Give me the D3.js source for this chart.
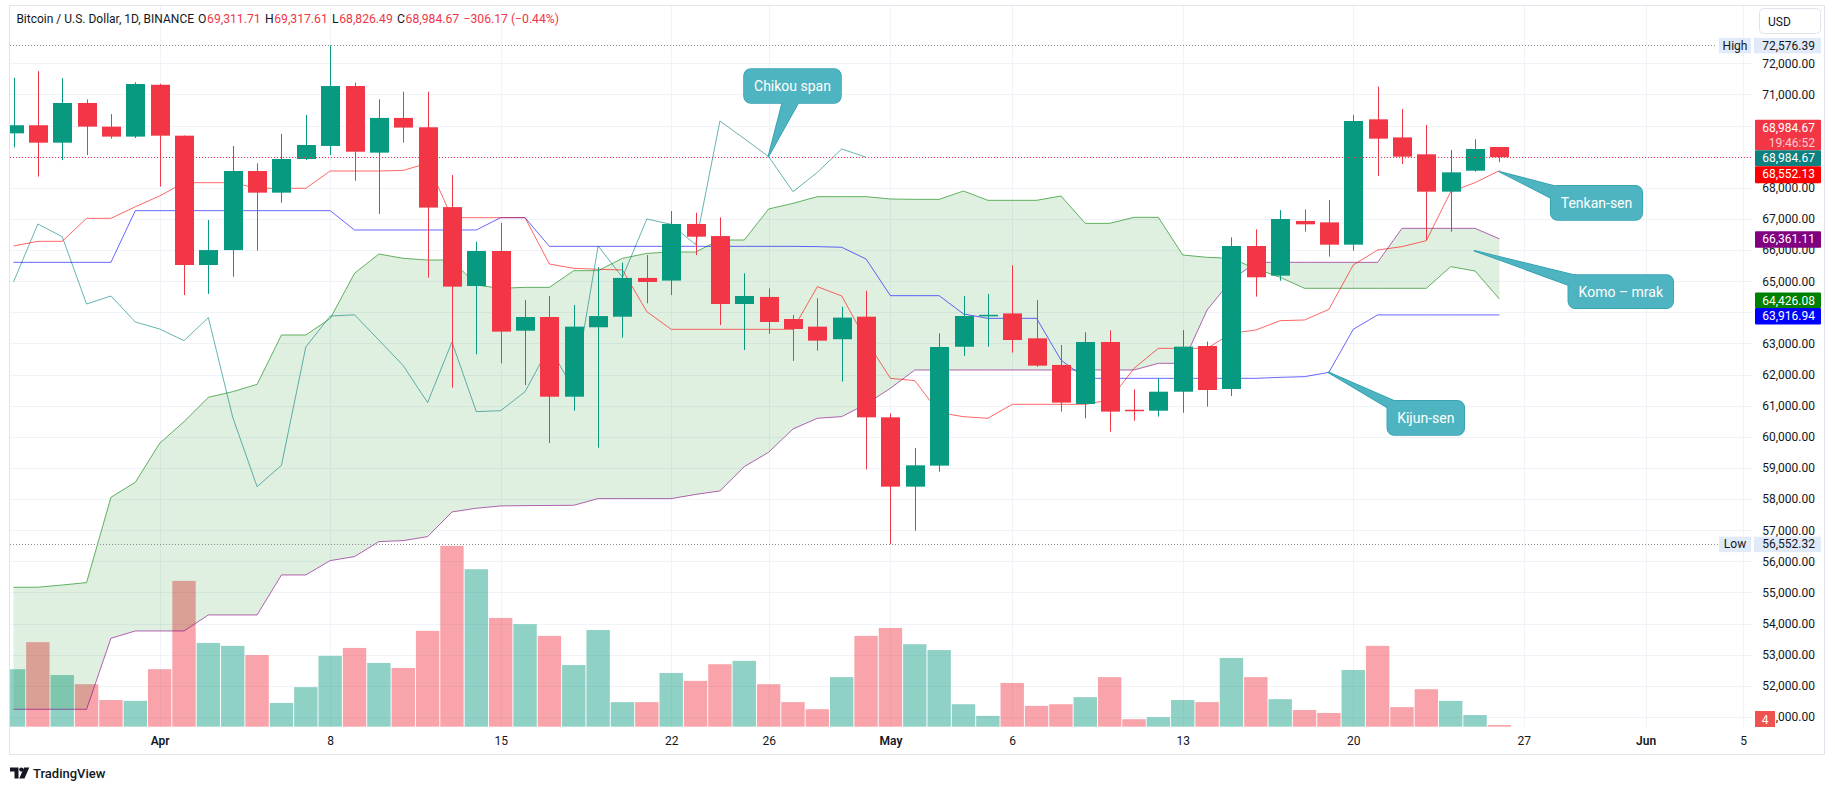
<!DOCTYPE html>
<html><head><meta charset="utf-8">
<script src="https://cdn.jsdelivr.net/npm/d3@7"></script>
<style>
html,body{margin:0;padding:0;background:#fff;}
svg{display:block;font-family:Roboto,"Noto Sans",sans-serif;}
</style></head><body>
<svg id="chart" width="1835" height="790"></svg>
<script>
// ---------- DATA ----------
const dates = ["2024-03-26","2024-03-27","2024-03-28","2024-03-29","2024-03-30","2024-03-31",
"2024-04-01","2024-04-02","2024-04-03","2024-04-04","2024-04-05","2024-04-06","2024-04-07","2024-04-08","2024-04-09","2024-04-10",
"2024-04-11","2024-04-12","2024-04-13","2024-04-14","2024-04-15","2024-04-16","2024-04-17","2024-04-18","2024-04-19","2024-04-20",
"2024-04-21","2024-04-22","2024-04-23","2024-04-24","2024-04-25","2024-04-26","2024-04-27","2024-04-28","2024-04-29","2024-04-30",
"2024-05-01","2024-05-02","2024-05-03","2024-05-04","2024-05-05","2024-05-06","2024-05-07","2024-05-08","2024-05-09","2024-05-10",
"2024-05-11","2024-05-12","2024-05-13","2024-05-14","2024-05-15","2024-05-16","2024-05-17","2024-05-18","2024-05-19","2024-05-20",
"2024-05-21","2024-05-22","2024-05-23","2024-05-24","2024-05-25","2024-05-26"];
const opens = [69750,70010,69450,70725,69965,69645,71310,69675,65520,66000,68540,67845,68925,69345,71270,69130,70245,69945,67380,64845,
65970,63410,63850,61290,63520,63860,65105,65020,66838,66450,64268,64495,63785,63540,63135,63860,60627,58400,59075,62895,
63880,63965,63165,62310,61055,63047,60870,60840,61450,62918,61537,66131,65178,66935,66890,66174,70200,69620,69076,67876,68550,69311.71];
const highs = [71530,71750,71520,70840,70370,71390,71340,69680,66965,69345,68785,69730,70340,72576.39,71380,70840,71090,71090,68410,66270,
66870,64395,64525,64235,65450,65595,65840,67255,67200,67050,65255,64770,63915,64450,64180,64695,60755,59640,63325,64525,
64590,65510,64395,62950,63360,63420,61525,61880,63430,63060,66410,66665,67285,67310,67610,70340,71250,70530,70020,69215,69560,69317.61];
const lows = [69300,68360,68890,69050,69580,69600,68040,64555,64590,65145,65980,67520,68895,69055,68230,67160,69450,65115,61580,62650,
62360,61665,59800,60840,59650,63185,64290,64555,65840,63590,62790,63305,62440,62770,61775,58950,56552.32,56985,58880,62600,
62895,62705,62250,60810,60595,60165,60520,60650,60775,60970,61310,64505,65015,66590,65790,65980,68380,68765,66325,66590,68520,68826.49];
const closes = [70010,69450,70725,69965,69645,71335,69675,65520,66000,68540,67845,68925,69375,71270,69160,70245,69935,67365,64825,65970,
63380,63850,61290,63540,63880,65105,64975,66838,66430,64268,64525,63690,63465,63090,63830,60627,58400,59085,62886,63882,
63920,63110,62287,61100,63047,60810,60840,61450,62897,61505,66131,65125,66998,66827,66174,70146,69579,69001,67876,68497,69247,68984.67];
const volumes = [138,203,124,102,64,62,138,350,201,194,172,57,95,170,189,153,141,230,434,378,
261,246,218,148,232,59,59,129,110,150,158,102,59,42,119,218,237,198,184,54,
26,105,50,54,71,119,18,23,64,59,165,119,66,40,33,136,194,47,90,62,28,4];
const tenkan = [66131,66281,66281,67020,67020,67390,67740,68165,68165,68165,67984,67984,67984,68540,68540,68540,68560,68790,67041,67041,
67041,67041,65553,65414,65382,65360,64021,63454,63454,63454,63454,63454,63454,64825,64525,63100,61880,61805,60777,60648,
60595,61045,61045,61045,61045,61184,62201,62844,62844,62844,63325,63432,63732,63754,64096,65520,66002,66110,66302,67876,68165,68552.13];
const kijun = [65606,65606,65606,65606,65606,67266,67266,67266,67266,67266,67266,67266,67266,67266,66645,66645,66645,66645,66645,66645,
67041,67041,66120,66120,66120,66120,66120,66120,66120,66120,66120,66120,66120,66110,66090,65713,64535,64535,64535,63946,
63807,63807,63807,62469,61880,61880,61880,61880,61880,61880,61880,61880,61912,61933,62072,63454,63916.94,63916.94,63916.94,63916.94,63916.94,63916.94];
const senkouA = [55167,55170,55240,55317,58058,58540,59793,60489,61270,61452,61687,63272,63272,63800,65253,65874,65735,65681,65681,64878,
64771,64803,64803,65339,65339,65735,65895,65938,65938,66324,66324,67320,67501,67716,67716,67716,67641,67630,67630,67898,
67598,67598,67598,67737,66859,66859,67052,67052,65842,65767,65735,65400,65124,64771,64771,64771,64771,64771,64771,65467,65328,64426.08];
const senkouB = [51248,51248,51248,51248,53529,53764,53764,53764,54278,54278,54278,55563,55563,56024,56152,56634,56666,56795,57587,57705,
57780,57790,57795,57801,58015,58015,58015,58015,58150,58262,59043,59504,60253,60596,60650,61050,61560,62148,62148,62148,
62148,62148,62148,62148,62148,62148,62148,62362,62362,64075,65039,65606,65606,65606,65606,65606,65606,66699,66699,66699,66699,66361.11];
const chikou = [64975,66838,66430,64268,64525,63690,63465,63090,63830,60627,58400,59085,62886,63882,63920,63110,62287,61100,63047,60810,
60840,61450,62897,61505,66131,65125,66998,66827,66174,70146,69579,69001,67876,68497,69247,68984.67];
const priceTicks = [51000,52000,53000,54000,55000,56000,57000,58000,59000,60000,61000,62000,63000,64000,65000,66000,67000,68000,69000,70000,71000,72000];
const timeTicks = ["2024-04-01","2024-04-08","2024-04-15","2024-04-22","2024-04-26","2024-05-01","2024-05-06","2024-05-13","2024-05-20","2024-05-27","2024-06-01","2024-06-05"];
const timeLabels = ["Apr","8","15","22","26","May","6","13","20","27","Jun","5"];
const headerTitle = "Bitcoin / U.S. Dollar, 1D, BINANCE";
const headerKeys = ["O","H","L","C"];
const headerVals = ["69,311.71","69,317.61","68,826.49","68,984.67"];
const headerChange = "\u2212306.17 (\u22120.44%)";
const rangeHigh = 72576.39, rangeLow = 56552.32;
const lastVolLabel = "4";
const countdown = "19:46:52";

// ---------- SETUP ----------
const svg = d3.select("#chart");
const parse = d3.utcParse("%Y-%m-%d");
const D = dates.map(parse);
const idx = d3.range(dates.length);
const x = d3.scaleUtc().domain([parse("2024-03-26"), parse("2024-06-05")]).range([13.5, 1743]);
const y = d3.scaleLinear().domain([51000, 72000]).range([717, 63.3]);
const vy = d3.scaleLinear().domain([0, 480]).range([726.7, 526.7]);
const UP = "#089981", DN = "#F23645", TXT = "#131722";
const fmt = d3.format(",.2f");

svg.append("defs").append("clipPath").attr("id", "clip")
  .append("rect").attr("x", 10).attr("y", 5).attr("width", 1743).attr("height", 722);

// frame
svg.append("rect").attr("x", 9.5).attr("y", 5.5).attr("width", 1815).attr("height", 749)
  .attr("fill", "none").attr("stroke", "#e0e3eb");

// grid
const grid = svg.append("g").attr("shape-rendering", "crispEdges").attr("stroke", "#f0f3fa");
grid.selectAll("line.h").data(priceTicks).join("line").attr("class", "h")
  .attr("x1", 10).attr("x2", 1753).attr("y1", d => Math.round(y(d)) + 0.5).attr("y2", d => Math.round(y(d)) + 0.5);
grid.selectAll("line.v").data(timeTicks.map(parse)).join("line").attr("class", "v")
  .attr("x1", d => Math.round(x(d)) + 0.5).attr("x2", d => Math.round(x(d)) + 0.5).attr("y1", 6).attr("y2", 727);

const plot = svg.append("g").attr("clip-path", "url(#clip)");

// volume
plot.append("g").selectAll("rect").data(idx).join("rect")
  .attr("x", i => x(D[i]) - 11.7).attr("width", 23.4)
  .attr("y", i => vy(volumes[i])).attr("height", i => vy(0) - vy(volumes[i]))
  .attr("fill", i => closes[i] >= opens[i] ? "rgba(8,153,129,0.45)" : "rgba(242,54,69,0.45)");

// cloud
const area = d3.area().x(i => x(D[i])).y0(i => y(senkouB[i])).y1(i => y(senkouA[i]));
plot.append("path").datum(idx).attr("d", area).attr("fill", "#008000").attr("fill-opacity", 0.12);

const lineOf = arr => d3.line().x((d, i) => x(D[i])).y(d => y(d))(arr);
const lines = [
  [senkouA, "#008000"], [senkouB, "#800080"], [chikou, "#008080"], [kijun, "#0000FF"], [tenkan, "#FF0000"]
];
lines.forEach(([arr, c]) => {
  plot.append("path").attr("d", lineOf(arr)).attr("fill", "none").attr("stroke", c)
    .attr("stroke-opacity", 0.6).attr("stroke-width", 1);
});

// candles
const cg = plot.append("g");
cg.selectAll("line").data(idx).join("line")
  .attr("x1", i => Math.round(x(D[i])) + 0.5).attr("x2", i => Math.round(x(D[i])) + 0.5)
  .attr("y1", i => y(highs[i])).attr("y2", i => y(lows[i]))
  .attr("stroke", i => closes[i] >= opens[i] ? UP : DN).attr("stroke-width", 1);
cg.selectAll("rect").data(idx).join("rect")
  .attr("x", i => Math.round(x(D[i])) - 9).attr("width", 19)
  .attr("y", i => y(Math.max(opens[i], closes[i])))
  .attr("height", i => Math.max(1.5, Math.abs(y(opens[i]) - y(closes[i]))))
  .attr("fill", i => closes[i] >= opens[i] ? UP : DN);

// dotted lines
const last = closes.length - 1;
svg.append("line").attr("x1", 10).attr("x2", 1716).attr("y1", Math.round(y(rangeHigh)) + 0.5).attr("y2", Math.round(y(rangeHigh)) + 0.5)
  .attr("stroke", "#8a8d96").attr("stroke-dasharray", "1,2");
svg.append("line").attr("x1", 10).attr("x2", 1718).attr("y1", Math.round(y(rangeLow)) + 0.5).attr("y2", Math.round(y(rangeLow)) + 0.5)
  .attr("stroke", "#8a8d96").attr("stroke-dasharray", "1,2");
svg.append("line").attr("x1", 10).attr("x2", 1753).attr("y1", Math.round(y(closes[last])) + 0.5).attr("y2", Math.round(y(closes[last])) + 0.5)
  .attr("stroke", DN).attr("stroke-dasharray", "1,2");

// callouts
const FILL = "#4fb4c1", STROKE = "#2f9fae";
const callouts = [
  {t: "Chikou span", r: [744, 69, 97, 34], w: [[768.3, 156.7], [783, 100], [800, 100]]},
  {t: "Tenkan-sen", r: [1550.7, 185.7, 91.6, 34.3], w: [[1499.3, 171.7], [1562, 188], [1553, 199]]},
  {t: "Komo \u2013 mrak", r: [1568.3, 275, 105, 33.3], w: [[1474.3, 250.7], [1582, 277], [1571, 286]]},
  {t: "Kijun-sen", r: [1387.3, 400.7, 77, 34.3], w: [[1328.3, 372.3], [1399, 403], [1390, 409]]}
];
const cgl = svg.append("g");
[true, false].forEach(stroked => {
  callouts.forEach(c => {
    cgl.append("path").attr("d", "M" + c.w.map(p => p.join(",")).join("L") + "Z")
      .attr("fill", FILL).attr("stroke", stroked ? STROKE : "none").attr("stroke-width", 1.5).attr("stroke-linejoin", "round");
    cgl.append("rect").attr("x", c.r[0]).attr("y", c.r[1]).attr("width", c.r[2]).attr("height", c.r[3]).attr("rx", 7)
      .attr("fill", FILL).attr("stroke", stroked ? STROKE : "none").attr("stroke-width", 1.5);
  });
});
callouts.forEach(c => {
  cgl.append("text").attr("x", c.r[0] + c.r[2] / 2).attr("y", c.r[1] + c.r[3] / 2 + 5)
    .attr("text-anchor", "middle").attr("fill", "#fff").attr("font-size", 14).text(c.t);
});

// price axis
const pa = svg.append("g").attr("transform", "translate(1815,0)")
  .call(d3.axisRight(y).tickValues(priceTicks).tickSize(0).tickFormat(fmt));
pa.select(".domain").remove();
pa.selectAll("text").attr("x", 0).attr("text-anchor", "end").attr("fill", TXT).attr("font-size", 12)
  .attr("font-family", "Roboto");

// time axis
const tickSet = timeTicks.map(parse);
const ta = svg.append("g").attr("transform", "translate(0,727)")
  .call(d3.axisBottom(x).tickValues(tickSet).tickSize(0).tickFormat((d, i) => timeLabels[i]));
ta.select(".domain").remove();
ta.selectAll("text").attr("y", 9).attr("fill", TXT).attr("font-size", 12).attr("font-family", "Roboto")
  .attr("font-weight", (d, i) => isNaN(+timeLabels[i]) ? 600 : 400);

// price labels
const lab = svg.append("g").attr("font-size", 12);
function box(x0, y0, w, h, fill, lines, color, anchorX) {
  lab.append("rect").attr("x", x0).attr("y", y0).attr("width", w).attr("height", h).attr("fill", fill).attr("rx", 1);
  lines.forEach((l, k) => {
    lab.append("text").attr("x", anchorX).attr("y", y0 + 12 + k * 15.5).attr("text-anchor", "end")
      .attr("fill", l.c || color).text(l.t);
  });
}
const chTop = y(chikou[chikou.length - 1]) - 7;
box(1755, chTop - 30.5, 66, 30.5, DN, [{t: fmt(closes[last])}, {t: countdown, c: "rgba(255,255,255,0.75)"}], "#fff", 1815);
box(1755, chTop, 66, 16, "#0f8080", [{t: fmt(chikou[chikou.length - 1])}], "#fff", 1815);
const tkTop = Math.max(y(tenkan[last]) - 8, chTop + 16);
box(1755, tkTop, 66, 17, "#FF0000", [{t: fmt(tenkan[last])}], "#fff", 1815);
box(1755, y(senkouB[last]) - 7.5, 66, 16.5, "#800080", [{t: fmt(senkouB[last])}], "#fff", 1815);
const saTop = y(senkouA[last]) - 6.5;
box(1755, saTop, 66, 15.5, "#008000", [{t: fmt(senkouA[last])}], "#fff", 1815);
box(1755, Math.max(y(kijun[last]) - 7, saTop + 15.5), 66, 16.5, "#0000FF", [{t: fmt(kijun[last])}], "#fff", 1815);
// high / low
const HL = "#e1eaf8";
[[rangeHigh, "High"], [rangeLow, "Low"]].forEach(([v, t]) => {
  const c = y(v);
  lab.append("rect").attr("x", 1719).attr("y", c - 7.5).attr("width", 32).attr("height", 15.5).attr("fill", HL);
  lab.append("text").attr("x", 1735).attr("y", c + 4.3).attr("text-anchor", "middle").attr("fill", TXT).text(t);
  lab.append("rect").attr("x", 1754).attr("y", c - 7.5).attr("width", 67).attr("height", 15.5).attr("fill", HL);
  lab.append("text").attr("x", 1815).attr("y", c + 4.3).attr("text-anchor", "end").attr("fill", TXT).text(fmt(v));
});
// volume last label
lab.append("rect").attr("x", 1755).attr("y", 711).attr("width", 20).attr("height", 16).attr("fill", "#ef5350");
lab.append("text").attr("x", 1765).attr("y", 723.5).attr("text-anchor", "middle").attr("fill", "#fff").text(lastVolLabel);

// USD box
svg.append("rect").attr("x", 1759.5).attr("y", 8.5).attr("width", 61).attr("height", 25).attr("rx", 4)
  .attr("fill", "#fff").attr("stroke", "#e0e3eb");
svg.append("text").attr("x", 1768).attr("y", 26).attr("font-size", 12).attr("fill", TXT).text("USD");

// header (laid out from measured natural widths, no overlaps)
const hg = svg.append("g").attr("font-size", 12.2);
const HY = 23;
const titleNode = hg.append("text").attr("x", 16.4).attr("y", HY).attr("fill", TXT).attr("font-size", 12).text(headerTitle);
const titleEnd = 16.4 + titleNode.node().getComputedTextLength();
const pieces = [];
headerKeys.forEach((k, i) => { pieces.push([[k, TXT], [headerVals[i], DN]]); });
pieces.push([[headerChange, DN]]);
const nodes = pieces.map(g => g.map(([t, c]) => {
  const n = hg.append("text").attr("y", HY).attr("fill", c).text(t);
  return {n, w: n.node().getComputedTextLength()};
}));
const startX = Math.max(197, titleEnd + 4), endX = 559;
const total = d3.sum(nodes, g => d3.sum(g, p => p.w));
const gap = Math.max(4, (endX - startX - total - 0.6 * 4) / (nodes.length - 1));
let cx = startX;
nodes.forEach(g => {
  g.forEach(p => { p.n.attr("x", cx); cx += p.w + 0.6; });
  cx += gap - 0.6;
});

// TradingView logo
const lg = svg.append("g").attr("fill", TXT);
lg.append("path").attr("d", "M10,767.5 h8.5 v11 h-4 v-7 h-4.5 z");
lg.append("circle").attr("cx", 21.3).attr("cy", 769.6).attr("r", 2.1);
lg.append("path").attr("d", "M24,767.5 h5.3 l-4.8,11 h-5.3 z");
svg.append("text").attr("x", 33).attr("y", 777.5).attr("font-size", 13).attr("font-weight", 500).attr("fill", TXT)
  .text("TradingView");
</script>
</body></html>
